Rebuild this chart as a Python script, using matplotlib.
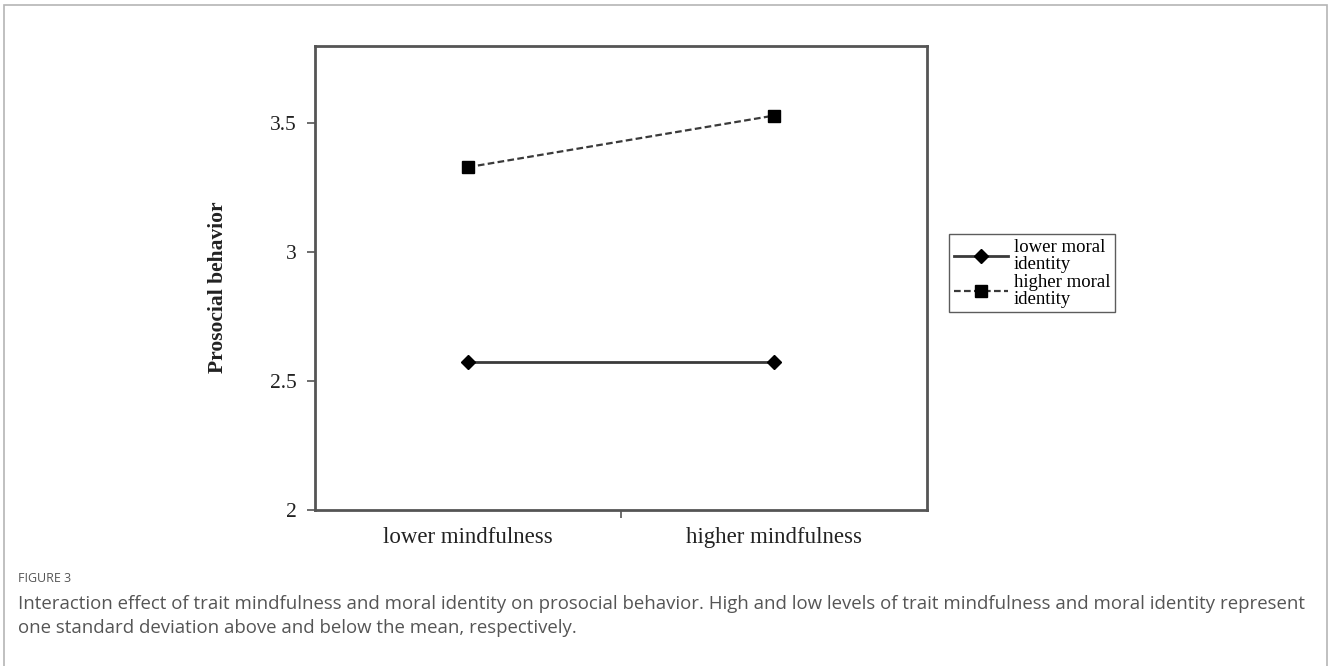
import matplotlib
matplotlib.use("Agg")
import matplotlib.pyplot as plt
from matplotlib.patches import Rectangle

# data
categories = ["lower mindfulness", "higher mindfulness"]
lower_moral = [2.575, 2.575]
higher_moral = [3.33, 3.53]
series_labels = ["lower moral\nidentity", "higher moral\nidentity"]
y_ticks = [2, 2.5, 3, 3.5]
y_ticklabels = ["2", "2.5", "3", "3.5"]

serif = ["Liberation Serif", "DejaVu Serif"]
spine_col = "#555555"

fig = plt.figure(figsize=(13.28, 6.66), dpi=100)

# outer light frame
fig.patches.append(Rectangle((4 / 1328, -0.05), 1323 / 1328, 1 - 5 / 666 + 0.05,
                             transform=fig.transFigure, fill=False,
                             edgecolor="#b5b5b5", linewidth=1.2))

ax = fig.add_axes([315 / 1328, 1 - 510 / 666, 612 / 1328, 464 / 666])

xpos = [0.5, 1.5]
ax.plot(xpos, lower_moral, color="#3a3a3a", linewidth=2, marker="D",
        markersize=7, markerfacecolor="black", markeredgecolor="black",
        label=series_labels[0])
ax.plot(xpos, higher_moral, color="#3a3a3a", linewidth=1.6, linestyle=(0, (3, 1.5)),
        marker="s", markersize=8, markerfacecolor="black", markeredgecolor="black",
        label=series_labels[1])

ax.set_xlim(0, 2)
ax.set_ylim(2, 3.8)

ax.set_yticks(y_ticks)
ax.set_yticklabels(y_ticklabels, fontfamily=serif, fontsize=15.5, color="#222222")
ax.set_xticks([1])
ax.set_xticklabels([""])
ax.set_xticks(xpos, minor=True)
ax.set_xticklabels(categories, minor=True, fontfamily=serif, fontsize=16.5,
                   color="#222222")
ax.tick_params(axis="x", which="minor", length=0, pad=12)
ax.tick_params(axis="both", which="major", length=6, width=1.2, color=spine_col,
               direction="out")
ax.tick_params(axis="y", pad=7)

for s in ax.spines.values():
    s.set_color(spine_col)
    s.set_linewidth(2)

ax.set_ylabel("Prosocial behavior", fontfamily=serif, fontsize=15.5,
              fontweight="bold", color="#222222")
ax.yaxis.set_label_coords(-0.142, 0.48)

leg = fig.legend(loc="upper left", bbox_to_anchor=(949 / 1328, 1 - 234 / 666),
                 bbox_transform=fig.transFigure,
                 prop={"family": serif, "size": 13.5}, frameon=True, fancybox=False,
                 edgecolor="#333333", borderpad=0.25, labelspacing=0.05,
                 handlelength=2.9, handletextpad=0.3, borderaxespad=0)
leg.get_frame().set_linewidth(1.0)
for t in leg.get_texts():
    t.set_linespacing(1.0)

# caption
cap_font = "Open Sans"
fig.text(18 / 1328, 1 - 578 / 666, "FIGURE 3", fontfamily=cap_font,
         fontsize=9, color="#555555", va="center")
fig.text(18 / 1328, 1 - 604 / 666,
         "Interaction effect of trait mindfulness and moral identity on prosocial behavior. "
         "High and low levels of trait mindfulness and moral identity represent",
         fontfamily=cap_font, fontsize=13.4, color="#555555", va="center")
fig.text(18 / 1328, 1 - 628 / 666,
         "one standard deviation above and below the mean, respectively.",
         fontfamily=cap_font, fontsize=13.4, color="#555555", va="center")

fig.savefig("out.png", dpi=100, facecolor="white")
